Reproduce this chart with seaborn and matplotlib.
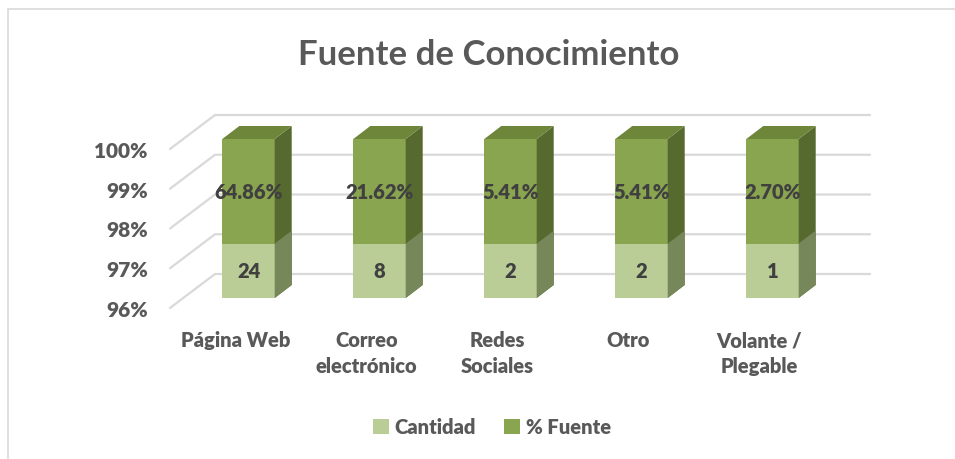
import matplotlib
matplotlib.use("Agg")
import matplotlib.pyplot as plt
from matplotlib.patches import Polygon, Rectangle, Patch
from matplotlib.lines import Line2D
import seaborn as sns
import pandas as pd

# datos
categorias = ["Página Web", "Correo\nelectrónico", "Redes\nSociales", "Otro", "Volante /\nPlegable"]
cantidad = [24, 8, 2, 2, 1]
pct_fuente = [64.86, 21.62, 5.41, 5.41, 2.70]
pct_labels = ["64.86%", "21.62%", "5.41%", "5.41%", "2.70%"]
y_ticks = [0.96, 0.97, 0.98, 0.99, 1.00]

# colores
light_front, light_side = "#BBCD96", "#768759"
dark_front, dark_top, dark_side = "#8AA54F", "#6D863A", "#56692E"
grid_col = "#D9D9D9"
txt_axis = "#595959"
txt_data = "#404040"
W = "heavy"

sns.set_style("white")
plt.rcParams["font.family"] = ["Lato", "DejaVu Sans"]

# 100% apilado: cantidad + fraccion (% fuente) por columna
df = pd.DataFrame({"cat": categorias, "cantidad": cantidad, "pct": pct_fuente})
df["share_cant"] = df["cantidad"] / (df["cantidad"] + df["pct"] / 100)
df["total"] = 1.0

fig = plt.figure(figsize=(9.55, 4.6), dpi=100)
ax = fig.add_axes([170 / 955, 151 / 460, 655 / 955, 159 / 460])
ymin, ymax = y_ticks[0], y_ticks[-1]

sns.barplot(data=df, x="cat", y="total", color=dark_front, width=0.40, saturation=1, ax=ax, zorder=3)
n_dark = len(ax.patches)
sns.barplot(data=df, x="cat", y="share_cant", color=light_front, width=0.40, saturation=1, ax=ax, zorder=4)
ax.set_ylim(ymin, ymax)
ax.set_xlim(-0.5, len(categorias) - 0.5)

for s in ax.spines.values():
    s.set_visible(False)
ax.set_xlabel("")
ax.set_ylabel("")
ax.set_yticks(y_ticks)
ax.set_yticklabels([f"{int(round(t * 100))}%" for t in y_ticks])
ax.tick_params(axis="y", length=0, pad=16, labelsize=15, labelcolor=txt_axis)
ax.tick_params(axis="x", length=0, pad=16, labelsize=14.5, labelcolor=txt_axis)
for lab in ax.get_yticklabels() + ax.get_xticklabels():
    lab.set_fontweight(W)
for lab in ax.get_xticklabels():
    lab.set_linespacing(1.45)
    lab.set_va("top")

fig.canvas.draw()
T = ax.transData

# offsets en pixeles (perspectiva)
bx, by = 13, 10     # cara frontal de la barra respecto del plano frontal
dx, dy = 17, 13     # profundidad de la barra
wx, wy = 45, 34     # pared del fondo

# pared izquierda + lineas de fondo
x_left = ax.transAxes.transform((0, 0))[0]
x_right = ax.transAxes.transform((1, 0))[0]
for t in y_ticks:
    yp = T.transform((0, t))[1]
    fig.add_artist(Line2D([x_left, x_left + wx, x_right + wx], [yp, yp + wy, yp + wy],
                          transform=None, color=grid_col, lw=1.6, zorder=1))

def draw_block(p, front, side, top=None):
    x0 = p.get_x()
    x1 = x0 + p.get_width()
    y1 = p.get_y() + p.get_height()
    y0 = max(p.get_y(), ymin)
    (X0, Y0) = T.transform((x0, y0)) + (bx, by)
    (X1, Y1) = T.transform((x1, y1)) + (bx, by)
    p.set_visible(False)
    fig.add_artist(Polygon([(X0, Y0), (X1, Y0), (X1, Y1), (X0, Y1)], closed=True,
                           transform=None, fc=front, ec="none", zorder=3))
    fig.add_artist(Polygon([(X1, Y0), (X1 + dx, Y0 + dy), (X1 + dx, Y1 + dy), (X1, Y1)], closed=True,
                           transform=None, fc=side, ec="none", zorder=3))
    if top is not None:
        fig.add_artist(Polygon([(X0, Y1), (X1, Y1), (X1 + dx, Y1 + dy), (X0 + dx, Y1 + dy)], closed=True,
                               transform=None, fc=top, ec="none", zorder=3))
    return X0, X1, Y0, Y1

dark_patches = ax.patches[:n_dark]
light_patches = ax.patches[n_dark:]
for i, (pd_, pl) in enumerate(zip(dark_patches, light_patches)):
    X0, X1, Yd0, Yd1 = draw_block(pd_, dark_front, dark_side, dark_top)
    _, _, Yl0, Yl1 = draw_block(pl, light_front, light_side)
    xc = (X0 + X1) / 2
    fig.text(xc, (Yl1 + Yd1) / 2, pct_labels[i], transform=None, ha="center", va="center",
             fontsize=14.5, fontweight=W, color=txt_data, zorder=5)
    fig.text(xc, (Yl0 + Yl1) / 2, str(cantidad[i]), transform=None, ha="center", va="center",
             fontsize=14.5, fontweight=W, color=txt_data, zorder=5)

fig.suptitle("Fuente de Conocimiento", x=489 / 955, y=1 - 55 / 460, va="center",
             fontsize=25, fontweight="bold", color=txt_axis)

handles = [Patch(facecolor=light_front, edgecolor="none"), Patch(facecolor=dark_front, edgecolor="none")]
leg = fig.legend(handles, ["Cantidad", "% Fuente"], loc="center", bbox_to_anchor=(492 / 955, 1 - 428 / 460),
                 ncol=2, frameon=False, handlelength=0.8, handleheight=0.8, handletextpad=0.3,
                 columnspacing=1.4, prop={"size": 14.5, "weight": W})
for txt in leg.get_texts():
    txt.set_color(txt_axis)

fig.add_artist(Rectangle((8 / 955, -0.1), 1.1, 1 - 10 / 460 + 0.1, transform=fig.transFigure,
                         fill=False, ec="#D9D9D9", lw=1.2))

fig.savefig("out.png", dpi=100)
